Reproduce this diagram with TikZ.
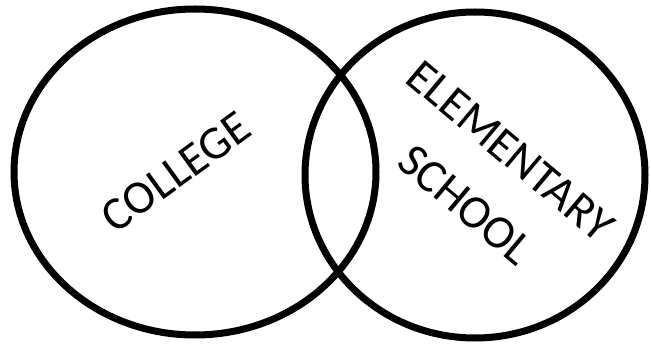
\documentclass[tikz,border=0pt]{standalone}
\usepackage{fontspec}
\setmainfont{Carlito}
\begin{document}
\begin{tikzpicture}[x=1pt,y=1pt,
  ring/.style={draw=black,line width=7pt,fill=none},
  label/.style={font=\fontsize{47}{70}\selectfont,align=center,inner sep=0pt}]
\useasboundingbox (0,0) rectangle (651,343);
\draw[ring] (195,171) ellipse [x radius=181, y radius=163];
\draw[ring] (475,168) ellipse [x radius=170, y radius=163];
\node[label,rotate=36] (college) at (176,171) {COLLEGE};
\node[label,rotate=-40] (elem) at (488,165) {ELEMENTARY\\SCHOOL};
\end{tikzpicture}
\end{document}
